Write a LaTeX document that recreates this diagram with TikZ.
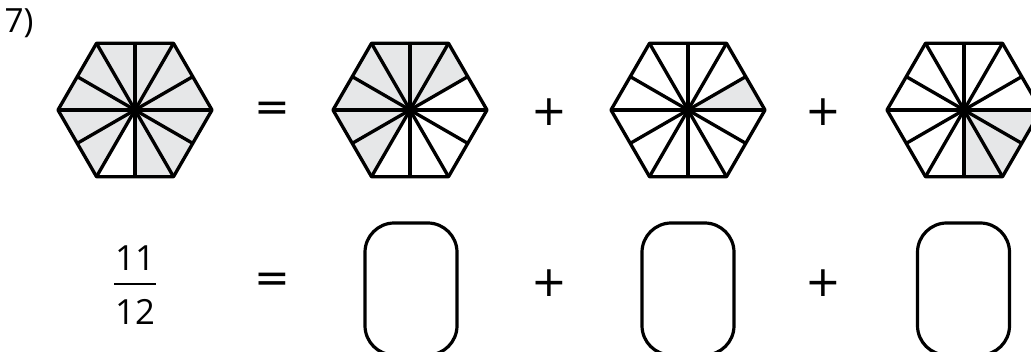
\documentclass[tikz,border=0pt]{standalone}
\usepackage{fontspec}
\setmainfont{Open Sans}
\newfontfamily\signfont{DejaVu Sans}
\definecolor{sectorgray}{HTML}{E6E7E8}
\begin{document}
\begin{tikzpicture}[x=0.75pt, y=0.75pt, line width=2.5pt, line join=round,
  sign/.style={font=\signfont\fontsize{32}{38}\selectfont, inner sep=0pt},
  digits/.style={font=\fontsize{26}{30}\selectfont, inner sep=0pt},
  answerbox/.style={draw, line width=2.4pt, rounded corners=22pt,
    minimum width=69pt, minimum height=99pt, inner sep=0pt}]
  \useasboundingbox (0,0) rectangle (1031,352);
  % shaded parts
  \fill[sectorgray, shift={(135,242)}] (0,0) -- (270:66.7) -- (300:77) -- (0:77) -- (60:77) -- (120:77) -- (180:77) -- (240:77) -- cycle;
  \fill[sectorgray, shift={(410,242)}] (0,0) -- (30:66.7) -- (60:77) -- (120:77) -- (180:77) -- (240:77) -- cycle;
  \fill[sectorgray, shift={(688,242)}] (0,0) -- (0:77) -- (30:66.7) -- cycle;
  \fill[sectorgray, shift={(964,242)}] (0,0) -- (270:66.7) -- (300:77) -- (0:77) -- cycle;
  % hexagons cut in twelfths
  \foreach \cx in {135,410,688,964} {
    \begin{scope}[shift={(\cx,242)}]
      \draw (0:77) -- (60:77) -- (120:77) -- (180:77) -- (240:77) -- (300:77) -- cycle;
      \foreach \a in {0,60,...,300} \draw (0,0) -- (\a:77);
      \foreach \a in {30,90,...,330} \draw (0,0) -- (\a:66.7);
      \fill (0,0) circle (3.5);
    \end{scope}
  }
  \node[font=\fontsize{25}{30}\selectfont, inner sep=0pt] (num) at (19,329) {7)};
  % top row
  \node[sign] (eqa) at (272,240) {=};
  \node[sign] (plusa) at (549,240) {+};
  \node[sign] (plusb) at (823,240) {+};
  % bottom row
  \node[digits] (numer) at (135,94) {11};
  \node[digits] (denom) at (135,40) {12};
  \draw[line width=1.8pt] (114,68) -- (156,68);
  \node[sign] (eqb) at (272,69) {=};
  \node[answerbox] (boxa) at (411,63) {};
  \node[sign] (plusc) at (549,69) {+};
  \node[answerbox] (boxb) at (688,63) {};
  \node[sign] (plusd) at (823,69) {+};
  \node[answerbox] (boxc) at (963.5,63) {};
\end{tikzpicture}
\end{document}
